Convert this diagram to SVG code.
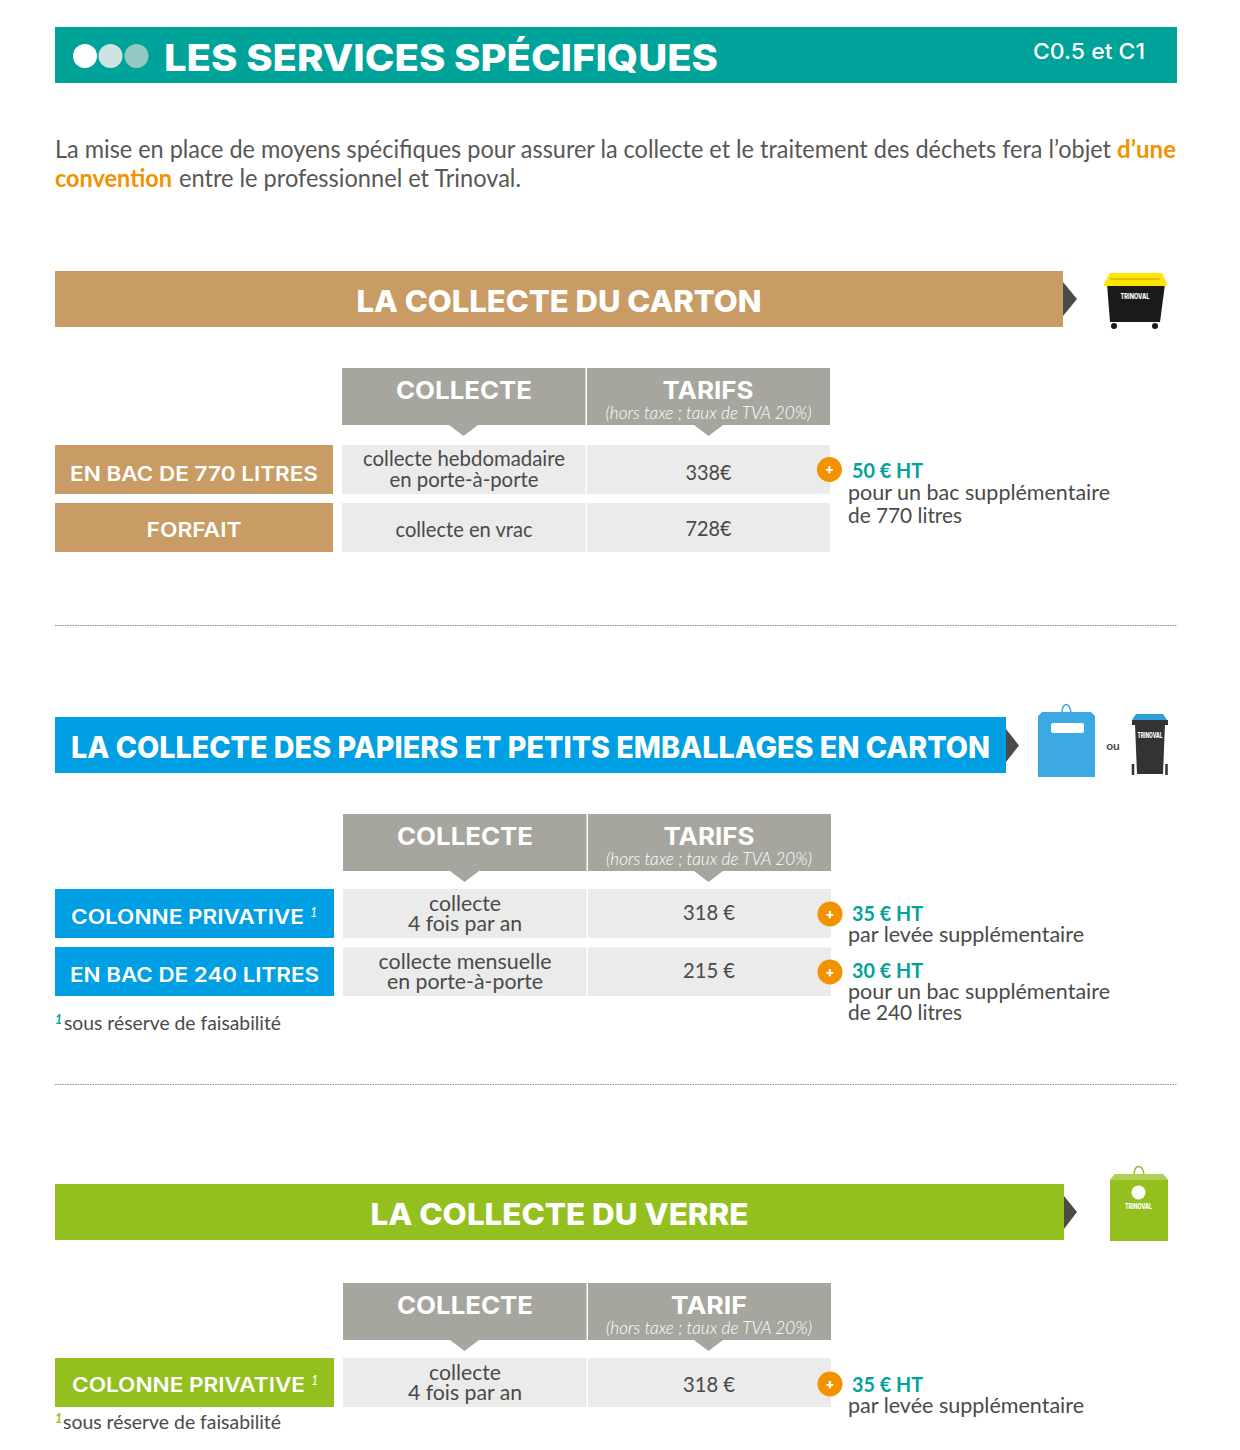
<svg xmlns="http://www.w3.org/2000/svg" width="1240" height="1450" viewBox="0 0 1240 1450">
<style>
text{font-family:"Lato","Liberation Sans",sans-serif;fill:#4a4a48}
.h{font-family:"Inter","Liberation Sans",sans-serif;font-weight:700;fill:#fff}
.m{text-anchor:middle}
.band{font-size:30px;font-weight:800}
.th{font-size:24px;font-weight:700}
.sub{font-size:17px;font-style:italic;fill:#fff;font-weight:300}
.lab{font-size:20px;font-weight:600}
.cell{font-size:21.500px}
.add{font-size:21.500px;font-weight:700;fill:#00a39a}
.note{font-size:21.500px}
.fn{font-size:20px}
.intro{font-size:24.500px;fill:#575756}
.or{font-size:24.500px;font-weight:700;fill:#f39200}
.hd{fill:#a6a69e}
.bd{fill:#ebebeb}
.arr{fill:#4b4c47}
.plus{fill:#f39200}
.pt{font-family:"Inter",sans-serif;font-size:13px;font-weight:800;fill:#fff;text-anchor:middle}
.sup{font-size:12.500px;font-style:italic;font-weight:700}
.supw{font-size:12.500px;font-style:italic;fill:#fff}
.logo{font-family:"Inter",sans-serif;font-size:7px;font-weight:800;fill:#fff;text-anchor:middle}
.dot{stroke:#8f8f8f;stroke-width:1.200;stroke-dasharray:1.500 1}
</style>
<g id="header">
<rect x="55" y="27" width="1122" height="56" fill="#00a39a"/>
<circle cx="85" cy="56" r="12" fill="#fff"/><circle cx="110.500" cy="56" r="12" fill="#cde4e1"/><circle cx="136.500" cy="56" r="12" fill="#95c8c3"/>
<text class="h" x="164" y="70.500" font-size="37" font-weight="800" style="font-weight:800" textLength="554" lengthAdjust="spacingAndGlyphs">LES SERVICES SPÉCIFIQUES</text>
<text x="1033" y="59" font-size="22" font-weight="500" style="font-family:Inter,sans-serif;fill:#fff" textLength="112" lengthAdjust="spacingAndGlyphs">C0.5 et C1</text>
</g>
<g id="intro">
<text class="intro" x="55" y="158" textLength="1056" lengthAdjust="spacingAndGlyphs">La mise en place de moyens spécifiques pour assurer la collecte et le traitement des déchets fera l’objet</text>
<text class="or" x="1117" y="158" textLength="59" lengthAdjust="spacingAndGlyphs">d’une</text>
<text class="or" x="55" y="187" textLength="117" lengthAdjust="spacingAndGlyphs">convention</text>
<text class="intro" x="179" y="187" textLength="342" lengthAdjust="spacingAndGlyphs">entre le professionnel et Trinoval.</text>
</g>

<!-- Section 1 -->
<g id="band-carton">
<rect x="55" y="271" width="1008" height="56" fill="#c89c64"/>
<path class="arr" d="M1063 282L1077 299L1063 316Z"/>
<text class="h band m" x="559" y="312" textLength="405" lengthAdjust="spacingAndGlyphs">LA COLLECTE DU CARTON</text>
</g>
<g id="bin-770">
<path d="M1107 284H1165L1160 322H1110Z" fill="#1a1a1a"/>
<path d="M1110 273H1162L1167 284V286H1104V284Z" fill="#ffe500"/>
<path d="M1110 279H1160" stroke="#d8c400" stroke-width="2" fill="none"/>
<circle cx="1114" cy="326" r="3" fill="#1a1a1a"/><circle cx="1155" cy="326" r="3" fill="#1a1a1a"/>
<text class="logo" x="1135" y="299" textLength="29" lengthAdjust="spacingAndGlyphs">TRINOVAL</text>
</g>
<g id="head-carton">
<rect class="hd" x="342" y="368" width="243.500" height="57"/><path class="hd" d="M449 425H478L463.500 436Z"/>
<text class="h th m" x="464" y="399" textLength="136" lengthAdjust="spacingAndGlyphs">COLLECTE</text>
<rect class="hd" x="587" y="368" width="243" height="57"/><path class="hd" d="M694 425H723L708.500 436Z"/>
<text class="h th m" x="708" y="399" textLength="91" lengthAdjust="spacingAndGlyphs">TARIFS</text>
<text class="sub m" x="708.500" y="419" textLength="206" lengthAdjust="spacingAndGlyphs">(hors taxe ; taux de TVA 20%)</text>
</g>
<g id="row-770">
<rect x="55" y="445" width="278" height="49" fill="#c89c64"/>
<text class="h lab m" x="194" y="481" textLength="248" lengthAdjust="spacingAndGlyphs">EN BAC DE 770 LITRES</text>
<rect class="bd" x="342" y="445" width="243.500" height="49"/><rect class="bd" x="587" y="445" width="243" height="49"/>
<text class="cell m" x="464" y="466" textLength="202" lengthAdjust="spacingAndGlyphs">collecte hebdomadaire</text>
<text class="cell m" x="464" y="487" textLength="149" lengthAdjust="spacingAndGlyphs">en porte-à-porte</text>
<text class="cell m" x="708.500" y="480" textLength="46" lengthAdjust="spacingAndGlyphs">338€</text>
</g>
<g id="row-forfait">
<rect x="55" y="503" width="278" height="49" fill="#c89c64"/>
<text class="h lab m" x="194" y="537" textLength="95" lengthAdjust="spacingAndGlyphs">FORFAIT</text>
<rect class="bd" x="342" y="503" width="243.500" height="49"/><rect class="bd" x="587" y="503" width="243" height="49"/>
<text class="cell m" x="464" y="537" textLength="137" lengthAdjust="spacingAndGlyphs">collecte en vrac</text>
<text class="cell m" x="708.500" y="536" textLength="46" lengthAdjust="spacingAndGlyphs">728€</text>
</g>
<g id="extra-770">
<circle class="plus" cx="829.500" cy="469.500" r="12.500"/><text class="pt" x="829.500" y="474">+</text>
<text class="add" x="852" y="477.500" textLength="71" lengthAdjust="spacingAndGlyphs">50 € HT</text>
<text class="note" x="848" y="500" textLength="262" lengthAdjust="spacingAndGlyphs">pour un bac supplémentaire</text>
<text class="note" x="848" y="523" textLength="114" lengthAdjust="spacingAndGlyphs">de 770 litres</text>
</g>
<path class="dot" d="M55 625.500H1177"/>

<!-- Section 2 -->
<g id="band-papiers">
<rect x="55" y="717" width="951" height="56" fill="#009fe3"/>
<path class="arr" d="M1006 729L1019 745.500L1006 762Z"/>
<text class="h band" x="71" y="758" textLength="919" lengthAdjust="spacingAndGlyphs">LA COLLECTE DES PAPIERS ET PETITS EMBALLAGES EN CARTON</text>
</g>
<g id="bag-blue">
<path d="M1038 777V716L1042 712H1091L1095 716V777Z" fill="#3aa9e4"/>
<path d="M1062 712C1063 702 1069 702 1071 712" fill="none" stroke="#3aa9e4" stroke-width="1.500"/>
<rect x="1051" y="723" width="33" height="10" rx="2" fill="#fff"/>
<text x="1113" y="750" font-size="12" font-weight="700" class="m">ou</text>
</g>
<g id="bin-240">
<path d="M1135 724H1165L1163 774H1137Z" fill="#333"/>
<path d="M1132 720H1168V725H1132Z" fill="#333"/>
<path d="M1136 714H1163L1167 720H1132Z" fill="#2e9fdc"/>
<path d="M1133 764V775M1166.500 764V775" stroke="#333" stroke-width="2.500"/>
<text class="logo" x="1150" y="738" textLength="25" lengthAdjust="spacingAndGlyphs">TRINOVAL</text>
</g>
<g id="head-papiers">
<rect class="hd" x="343" y="814" width="243.500" height="57"/><path class="hd" d="M450 871H479L464.500 882Z"/>
<text class="h th m" x="465" y="845" textLength="136" lengthAdjust="spacingAndGlyphs">COLLECTE</text>
<rect class="hd" x="588" y="814" width="243" height="57"/><path class="hd" d="M694 871H723L708.500 882Z"/>
<text class="h th m" x="709" y="845" textLength="91" lengthAdjust="spacingAndGlyphs">TARIFS</text>
<text class="sub m" x="709" y="865" textLength="206" lengthAdjust="spacingAndGlyphs">(hors taxe ; taux de TVA 20%)</text>
</g>
<g id="row-colonne-bleu">
<rect x="55" y="889" width="279" height="49" fill="#009fe3"/>
<text class="h lab" x="71" y="924" textLength="233" lengthAdjust="spacingAndGlyphs">COLONNE PRIVATIVE</text>
<text class="supw" x="310" y="917">1</text>
<rect class="bd" x="343" y="889" width="243.500" height="49"/><rect class="bd" x="588" y="889" width="243" height="49"/>
<text class="cell m" x="465" y="911" textLength="72" lengthAdjust="spacingAndGlyphs">collecte</text>
<text class="cell m" x="465" y="931" textLength="114" lengthAdjust="spacingAndGlyphs">4 fois par an</text>
<text class="cell m" x="709" y="920" textLength="52" lengthAdjust="spacingAndGlyphs">318 €</text>
</g>
<g id="row-240">
<rect x="55" y="947" width="279" height="49" fill="#009fe3"/>
<text class="h lab m" x="194.500" y="982" textLength="249" lengthAdjust="spacingAndGlyphs">EN BAC DE 240 LITRES</text>
<rect class="bd" x="343" y="947.500" width="243.500" height="48.500"/><rect class="bd" x="588" y="947.500" width="243" height="48.500"/>
<text class="cell m" x="465" y="969" textLength="173" lengthAdjust="spacingAndGlyphs">collecte mensuelle</text>
<text class="cell m" x="465" y="989" textLength="156" lengthAdjust="spacingAndGlyphs">en porte-à-porte</text>
<text class="cell m" x="709" y="978" textLength="52" lengthAdjust="spacingAndGlyphs">215 €</text>
</g>
<g id="extra-colonne-bleu">
<circle class="plus" cx="830" cy="914" r="12.500"/><text class="pt" x="830" y="918.500">+</text>
<text class="add" x="852" y="921" textLength="71" lengthAdjust="spacingAndGlyphs">35 € HT</text>
<text class="note" x="848" y="942" textLength="236" lengthAdjust="spacingAndGlyphs">par levée supplémentaire</text>
</g>
<g id="extra-240">
<circle class="plus" cx="830" cy="972" r="12.500"/><text class="pt" x="830" y="976.500">+</text>
<text class="add" x="852" y="978" textLength="71" lengthAdjust="spacingAndGlyphs">30 € HT</text>
<text class="note" x="848" y="999" textLength="262" lengthAdjust="spacingAndGlyphs">pour un bac supplémentaire</text>
<text class="note" x="848" y="1020" textLength="114" lengthAdjust="spacingAndGlyphs">de 240 litres</text>
</g>
<g id="note-papiers">
<text class="sup" x="55" y="1024" style="fill:#00a39a">1</text>
<text class="fn" x="64" y="1030" textLength="217" lengthAdjust="spacingAndGlyphs">sous réserve de faisabilité</text>
</g>
<path class="dot" d="M55 1084.500H1177"/>

<!-- Section 3 -->
<g id="band-verre">
<rect x="55" y="1184" width="1009" height="56" fill="#93c01f"/>
<path class="arr" d="M1064 1196L1077 1212L1064 1229Z"/>
<text class="h band m" x="559.500" y="1225" textLength="378" lengthAdjust="spacingAndGlyphs">LA COLLECTE DU VERRE</text>
</g>
<g id="bag-green">
<path d="M1110 1241V1180L1115 1174H1163L1168 1180V1241Z" fill="#93c01f"/>
<path d="M1115 1174H1163L1168 1180H1110Z" fill="#aed054"/>
<path d="M1134 1174C1135 1164 1142 1164 1144 1174" fill="none" stroke="#93c01f" stroke-width="1.500"/>
<circle cx="1138.500" cy="1192.500" r="7" fill="#fff"/>
<text class="logo" x="1138.500" y="1209" textLength="27" lengthAdjust="spacingAndGlyphs">TRINOVAL</text>
</g>
<g id="head-verre">
<rect class="hd" x="343" y="1283" width="243.500" height="57"/><path class="hd" d="M450 1340H479L464.500 1351Z"/>
<text class="h th m" x="465" y="1314" textLength="136" lengthAdjust="spacingAndGlyphs">COLLECTE</text>
<rect class="hd" x="588" y="1283" width="243" height="57"/><path class="hd" d="M694 1340H723L708.500 1351Z"/>
<text class="h th m" x="709" y="1314" textLength="76" lengthAdjust="spacingAndGlyphs">TARIF</text>
<text class="sub m" x="709" y="1334" textLength="206" lengthAdjust="spacingAndGlyphs">(hors taxe ; taux de TVA 20%)</text>
</g>
<g id="row-colonne-vert">
<rect x="55" y="1358" width="279" height="49" fill="#93c01f"/>
<text class="h lab" x="72" y="1392" textLength="233" lengthAdjust="spacingAndGlyphs">COLONNE PRIVATIVE</text>
<text class="supw" x="311" y="1385">1</text>
<rect class="bd" x="343" y="1358" width="243.500" height="49"/><rect class="bd" x="588" y="1358" width="243" height="49"/>
<text class="cell m" x="465" y="1380" textLength="72" lengthAdjust="spacingAndGlyphs">collecte</text>
<text class="cell m" x="465" y="1400" textLength="114" lengthAdjust="spacingAndGlyphs">4 fois par an</text>
<text class="cell m" x="709" y="1392" textLength="52" lengthAdjust="spacingAndGlyphs">318 €</text>
</g>
<g id="extra-colonne-vert">
<circle class="plus" cx="830" cy="1384" r="12.500"/><text class="pt" x="830" y="1388.500">+</text>
<text class="add" x="852" y="1392" textLength="71" lengthAdjust="spacingAndGlyphs">35 € HT</text>
<text class="note" x="848" y="1413" textLength="236" lengthAdjust="spacingAndGlyphs">par levée supplémentaire</text>
</g>
<g id="note-verre">
<text class="sup" x="55" y="1423" style="fill:#93c01f">1</text>
<text class="fn" x="63" y="1429" textLength="218" lengthAdjust="spacingAndGlyphs">sous réserve de faisabilité</text>
</g>
</svg>
